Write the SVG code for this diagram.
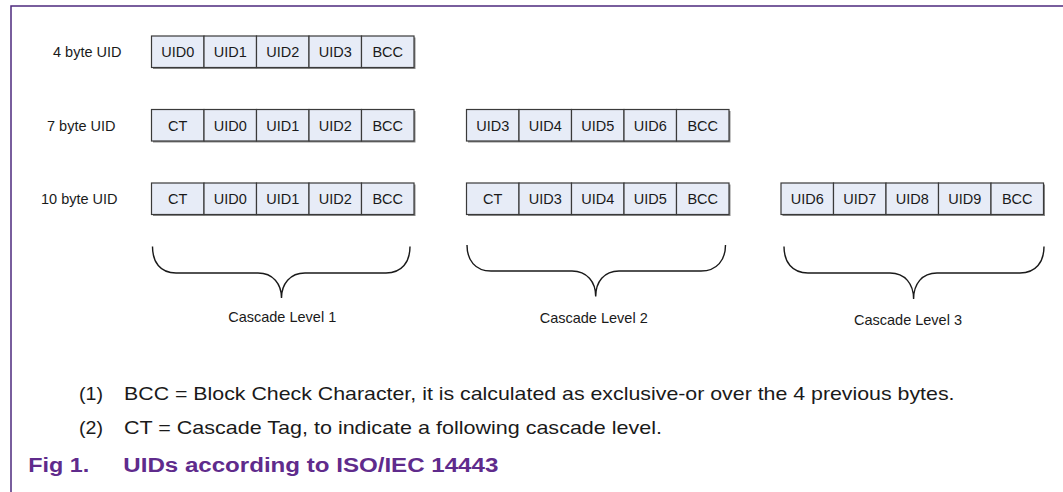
<svg xmlns="http://www.w3.org/2000/svg" width="1063" height="492" viewBox="0 0 1063 492">
<style>
  .frame{fill:none;stroke:#4e2a7e;stroke-width:1.5}
  .cell{fill:#e7ecf7;stroke:#3a3a3a;stroke-width:1.2}
  .shadow{fill:#8a8a8a}
  .t{font-family:"Liberation Sans",Arial,sans-serif;font-size:14.5px;fill:#1a1a1a}
  .c{text-anchor:middle}
  .brace{fill:none;stroke:#1a1a1a;stroke-width:1.4}
  .note{font-family:"Liberation Sans",Arial,sans-serif;font-size:18.5px;fill:#1a1a1a}
  .cap{font-family:"Liberation Sans",Arial,sans-serif;font-size:20px;font-weight:bold;fill:#5f2b8c}
</style>
<rect width="1063" height="492" fill="#ffffff"/>
<path class="frame" d="M11,492 L11,6 L1063,6"/>

<g id="label-4byte"><text class="t" x="53" y="56.8">4 byte UID</text></g>
<g id="label-7byte"><text class="t" x="47" y="130.7">7 byte UID</text></g>
<g id="label-10byte"><text class="t" x="41" y="204">10 byte UID</text></g>

<g id="row4-g1">
  <rect class="shadow" x="153" y="37.5" width="262.5" height="31.5"/>
  <rect class="cell" x="151.5" y="36" width="52.5" height="31.5"/>
  <rect class="cell" x="204" y="36" width="52.5" height="31.5"/>
  <rect class="cell" x="256.5" y="36" width="52.5" height="31.5"/>
  <rect class="cell" x="309" y="36" width="52.5" height="31.5"/>
  <rect class="cell" x="361.5" y="36" width="52.5" height="31.5"/>
  <text class="t c" x="177.75" y="56.8">UID0</text>
  <text class="t c" x="230.25" y="56.8">UID1</text>
  <text class="t c" x="282.75" y="56.8">UID2</text>
  <text class="t c" x="335.25" y="56.8">UID3</text>
  <text class="t c" x="387.75" y="56.8">BCC</text>
</g>

<g id="row7-g1">
  <rect class="shadow" x="153" y="111" width="262.5" height="31.5"/>
  <rect class="cell" x="151.5" y="109.5" width="52.5" height="31.5"/>
  <rect class="cell" x="204" y="109.5" width="52.5" height="31.5"/>
  <rect class="cell" x="256.5" y="109.5" width="52.5" height="31.5"/>
  <rect class="cell" x="309" y="109.5" width="52.5" height="31.5"/>
  <rect class="cell" x="361.5" y="109.5" width="52.5" height="31.5"/>
  <text class="t c" x="177.75" y="130.7">CT</text>
  <text class="t c" x="230.25" y="130.7">UID0</text>
  <text class="t c" x="282.75" y="130.7">UID1</text>
  <text class="t c" x="335.25" y="130.7">UID2</text>
  <text class="t c" x="387.75" y="130.7">BCC</text>
</g>

<g id="row7-g2">
  <rect class="shadow" x="468" y="111" width="262.5" height="31.5"/>
  <rect class="cell" x="466.5" y="109.5" width="52.5" height="31.5"/>
  <rect class="cell" x="519" y="109.5" width="52.5" height="31.5"/>
  <rect class="cell" x="571.5" y="109.5" width="52.5" height="31.5"/>
  <rect class="cell" x="624" y="109.5" width="52.5" height="31.5"/>
  <rect class="cell" x="676.5" y="109.5" width="52.5" height="31.5"/>
  <text class="t c" x="492.75" y="130.7">UID3</text>
  <text class="t c" x="545.25" y="130.7">UID4</text>
  <text class="t c" x="597.75" y="130.7">UID5</text>
  <text class="t c" x="650.25" y="130.7">UID6</text>
  <text class="t c" x="702.75" y="130.7">BCC</text>
</g>

<g id="row10-g1">
  <rect class="shadow" x="153" y="184.5" width="262.5" height="31.5"/>
  <rect class="cell" x="151.5" y="183" width="52.5" height="31.5"/>
  <rect class="cell" x="204" y="183" width="52.5" height="31.5"/>
  <rect class="cell" x="256.5" y="183" width="52.5" height="31.5"/>
  <rect class="cell" x="309" y="183" width="52.5" height="31.5"/>
  <rect class="cell" x="361.5" y="183" width="52.5" height="31.5"/>
  <text class="t c" x="177.75" y="204">CT</text>
  <text class="t c" x="230.25" y="204">UID0</text>
  <text class="t c" x="282.75" y="204">UID1</text>
  <text class="t c" x="335.25" y="204">UID2</text>
  <text class="t c" x="387.75" y="204">BCC</text>
</g>

<g id="row10-g2">
  <rect class="shadow" x="468" y="184.5" width="262.5" height="31.5"/>
  <rect class="cell" x="466.5" y="183" width="52.5" height="31.5"/>
  <rect class="cell" x="519" y="183" width="52.5" height="31.5"/>
  <rect class="cell" x="571.5" y="183" width="52.5" height="31.5"/>
  <rect class="cell" x="624" y="183" width="52.5" height="31.5"/>
  <rect class="cell" x="676.5" y="183" width="52.5" height="31.5"/>
  <text class="t c" x="492.75" y="204">CT</text>
  <text class="t c" x="545.25" y="204">UID3</text>
  <text class="t c" x="597.75" y="204">UID4</text>
  <text class="t c" x="650.25" y="204">UID5</text>
  <text class="t c" x="702.75" y="204">BCC</text>
</g>

<g id="row10-g3">
  <rect class="shadow" x="782.5" y="184.5" width="262.5" height="31.5"/>
  <rect class="cell" x="781" y="183" width="52.5" height="31.5"/>
  <rect class="cell" x="833.5" y="183" width="52.5" height="31.5"/>
  <rect class="cell" x="886" y="183" width="52.5" height="31.5"/>
  <rect class="cell" x="938.5" y="183" width="52.5" height="31.5"/>
  <rect class="cell" x="991" y="183" width="52.5" height="31.5"/>
  <text class="t c" x="807.25" y="204">UID6</text>
  <text class="t c" x="859.75" y="204">UID7</text>
  <text class="t c" x="912.25" y="204">UID8</text>
  <text class="t c" x="964.75" y="204">UID9</text>
  <text class="t c" x="1017.25" y="204">BCC</text>
</g>

<g id="connectors">
  <path class="brace" d="M152.5,246.5 C152.5,262 160,273 176,273 L258,273 C273,273 281.5,284 281.5,298 C281.5,284 290,273 305,273 L386,273 C402,273 410,262 410,246.5"/>
  <path class="brace" d="M467,245 C467,260 475,271 491,271 L572,271 C587,271 595.7,282 595.7,296.5 C595.7,282 604,271 619,271 L701,271 C717,271 725.5,260 725.5,245"/>
  <path class="brace" d="M784,246.5 C784,262 792,273 808,273 L890,273 C905,273 913.6,284 913.6,299 C913.6,284 922,273 937,273 L1020,273 C1036,273 1044,262 1044,246.5"/>
</g>

<g id="level1"><text class="t c" x="282.2" y="322.3">Cascade Level 1</text></g>
<g id="level2"><text class="t c" x="593.7" y="322.7">Cascade Level 2</text></g>
<g id="level3"><text class="t c" x="908" y="325">Cascade Level 3</text></g>

<g id="notes">
  <text class="note" x="79" y="400.3" textLength="24" lengthAdjust="spacingAndGlyphs">(1)</text>
  <text class="note" x="124" y="400.3" textLength="830.5" lengthAdjust="spacingAndGlyphs">BCC = Block Check Character, it is calculated as exclusive-or over the 4 previous bytes.</text>
  <text class="note" x="79" y="434.3" textLength="24" lengthAdjust="spacingAndGlyphs">(2)</text>
  <text class="note" x="124" y="434.3" textLength="538" lengthAdjust="spacingAndGlyphs">CT = Cascade Tag, to indicate a following cascade level.</text>
</g>

<g id="caption">
  <text class="cap" x="28.3" y="471.7" textLength="61" lengthAdjust="spacingAndGlyphs">Fig 1.</text>
  <text class="cap" x="123.3" y="471.7" textLength="375" lengthAdjust="spacingAndGlyphs">UIDs according to ISO/IEC 14443</text>
</g>
</svg>
